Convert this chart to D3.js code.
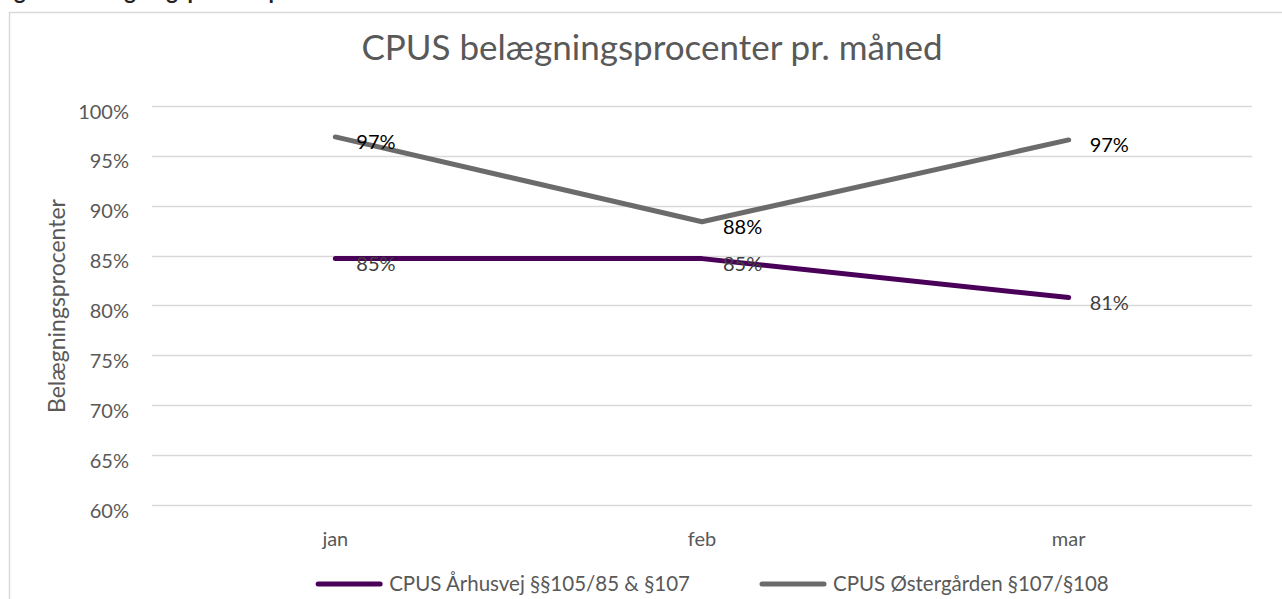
<!DOCTYPE html>
<html>
<head>
<meta charset="utf-8">
<script src="https://cdn.jsdelivr.net/npm/d3@7"></script>
<style>
html,body{margin:0;padding:0;background:#fff;overflow:hidden;}
svg{display:block;font-family:Lato,"Open Sans",sans-serif;}
</style>
</head>
<body>
<script>
const months = ["jan", "feb", "mar"];
const seriesNames = ["CPUS Århusvej §§105/85 & §107", "CPUS Østergården §107/§108"];
const aarhusvej = [0.847, 0.847, 0.808];
const oestergaarden = [0.969, 0.884, 0.966];
const labelsAarhusvej = ["85%", "85%", "81%"];
const labelsOestergaarden = ["97%", "88%", "97%"];
const yTicks = [0.60, 0.65, 0.70, 0.75, 0.80, 0.85, 0.90, 0.95, 1.00];
const colors = ["#4a0058", "#6b6b6b"];
const labelColors = ["#404040", "#000000"];

(function () {
const W = 1282, H = 599;
const FS = 20;
const svg = d3.select("body").append("svg").attr("width", W).attr("height", H);

// clipped header above chart
svg.append("text").attr("x", -4).attr("y", -1)
  .attr("font-weight", "bold").attr("font-size", 22).attr("fill", "#222")
  .text("Figur 2: Belægningsprocent pr. måned");

// chart border
svg.append("rect").attr("x", 9.5).attr("y", 12.5).attr("width", 1300).attr("height", 620)
  .attr("fill", "#fff").attr("stroke", "#d9d9d9").attr("stroke-width", 1.5);

const pL = 152, pR = 1252, pT = 106, pB = 505;
const x = d3.scaleBand().domain(months).range([pL, pR]);
const y = d3.scaleLinear().domain([0.6, 1.0]).range([pB, pT]);

// title
svg.append("text").attr("x", 652).attr("y", 60).attr("text-anchor", "middle")
  .attr("font-size", 35).attr("fill", "#595959")
  .text("CPUS belægningsprocenter pr. måned");

// gridlines
svg.append("g").selectAll("line").data(yTicks).join("line")
  .attr("x1", pL).attr("x2", pR)
  .attr("y1", d => Math.round(y(d)) + 0.5).attr("y2", d => Math.round(y(d)) + 0.5)
  .attr("stroke", "#d9d9d9").attr("stroke-width", 1.3);

// y axis
const yAxis = d3.axisLeft(y).tickValues(yTicks).tickFormat(d3.format(".0%")).tickSize(0).tickPadding(0);
const gy = svg.append("g").attr("transform", `translate(129,0)`).call(yAxis);
gy.select(".domain").remove();
gy.selectAll("text").attr("font-size", FS).attr("fill", "#595959").attr("font-family", "Lato,sans-serif")
  .attr("dy", 0).attr("y", 12);

// x axis
const xAxis = d3.axisBottom(x).tickSize(0).tickPadding(0);
const gx = svg.append("g").attr("transform", `translate(0,${pB})`).call(xAxis);
gx.select(".domain").remove();
gx.selectAll("text").attr("font-size", FS).attr("fill", "#595959").attr("font-family", "Lato,sans-serif")
  .attr("dy", 0).attr("y", 41);

// y axis title
svg.append("text").attr("transform", "translate(65,306) rotate(-90)").attr("text-anchor", "middle")
  .attr("font-size", 23).attr("fill", "#595959").text("Belægningsprocenter");

const cx = m => x(m) + x.bandwidth() / 2;
const series = [
  {name: seriesNames[0], values: aarhusvej, labels: labelsAarhusvej, color: colors[0], lc: labelColors[0]},
  {name: seriesNames[1], values: oestergaarden, labels: labelsOestergaarden, color: colors[1], lc: labelColors[1]}
];
const line = d3.line().x((d, i) => cx(months[i])).y(d => y(d));

series.forEach(s => {
  svg.append("path").datum(s.values).attr("d", line).attr("fill", "none")
    .attr("stroke", s.color).attr("stroke-width", 5).attr("stroke-linecap", "round").attr("stroke-linejoin", "round");
});
series.forEach(s => {
  svg.append("g").selectAll("text").data(s.values).join("text")
    .attr("x", (d, i) => cx(months[i]) + 21).attr("y", d => y(d) + 12)
    .attr("font-size", FS).attr("fill", s.lc).text((d, i) => s.labels[i]);
});

// legend
const LFS = 20.5;
const legY = 584, legBase = 591, sampleLen = 62;
svg.append("line").attr("x1", 762).attr("x2", 762 + sampleLen).attr("y1", legY).attr("y2", legY)
  .attr("stroke", series[1].color).attr("stroke-width", 5).attr("stroke-linecap", "round");
svg.append("text").attr("x", 833).attr("y", legBase).attr("font-size", LFS).attr("fill", "#595959").text(series[1].name);
const t1 = svg.append("text").attr("x", 690).attr("y", legBase).attr("text-anchor", "end")
  .attr("font-size", LFS).attr("fill", "#595959").text(series[0].name);
const w1 = t1.node().getComputedTextLength();
const s1 = 690 - w1 - 9 - sampleLen;
svg.append("line").attr("x1", s1).attr("x2", s1 + sampleLen).attr("y1", legY).attr("y2", legY)
  .attr("stroke", series[0].color).attr("stroke-width", 5).attr("stroke-linecap", "round");
})();
</script>
</body>
</html>
